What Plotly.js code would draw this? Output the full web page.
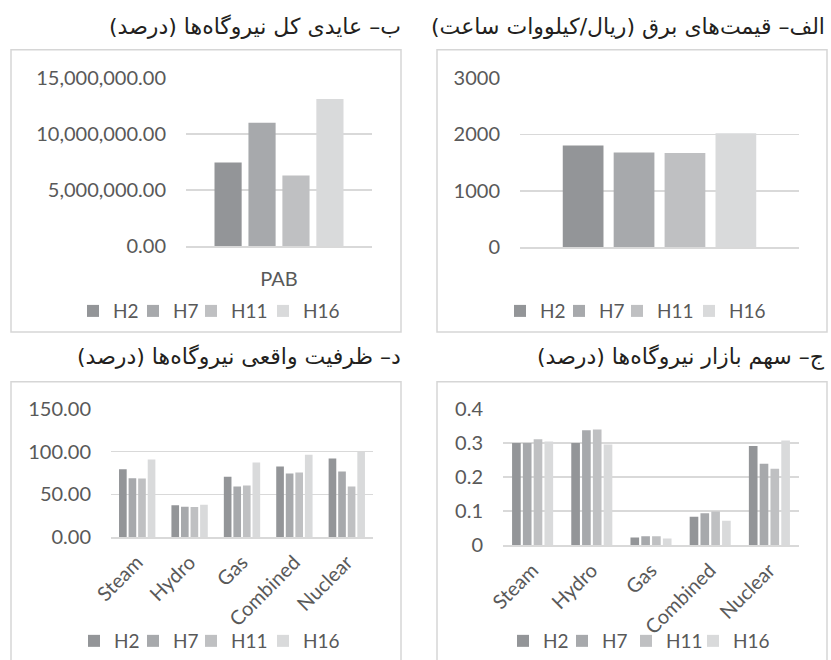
<!DOCTYPE html>
<html>
<head>
<meta charset="utf-8">
<script src="https://cdn.plot.ly/plotly-3.0.1.min.js"></script>
<style>html,body{margin:0;padding:0;background:#fff;}#chart{width:831px;height:660px;}</style>
</head>
<body>
<div id="chart"></div>
<script>
// ---- data ----
var seriesNames = ['H2', 'H7', 'H11', 'H16'];
var seriesColors = ['#939598', '#a7a9ac', '#bfc0c2', '#d9dadb'];

// الف – electricity prices
var priceCategories = ['PAB'];
var priceH2 = [1800];
var priceH7 = [1675];
var priceH11 = [1670];
var priceH16 = [2020];

// ب – total revenue
var revenueCategories = ['PAB'];
var revenueH2 = [7450000];
var revenueH7 = [11000000];
var revenueH11 = [6300000];
var revenueH16 = [13100000];

// ج – market share
var plantCategories = ['Steam', 'Hydro', 'Gas', 'Combined', 'Nuclear'];
var shareH2 = [0.300, 0.300, 0.023, 0.084, 0.291];
var shareH7 = [0.300, 0.337, 0.027, 0.094, 0.239];
var shareH11 = [0.311, 0.339, 0.027, 0.099, 0.224];
var shareH16 = [0.304, 0.295, 0.020, 0.072, 0.307];

// د – real capacity
var capacityH2 = [79.4, 37.6, 70.6, 82.6, 91.9];
var capacityH7 = [69.0, 35.7, 59.3, 74.4, 76.7];
var capacityH11 = [68.8, 35.3, 60.5, 75.6, 59.3];
var capacityH16 = [90.7, 38.0, 87.2, 96.5, 100.0];

var titles = {
  price: 'الف– قیمت‌های برق (ریال/کیلووات ساعت)',
  revenue: 'ب– عایدی کل نیروگاه‌ها (درصد)',
  share: 'ج– سهم بازار نیروگاه‌ها (درصد)',
  capacity: 'د– ظرفیت واقعی نیروگاه‌ها (درصد)'
};

// ---- layout helpers ----
var W = 831, H = 660;
function px(x) { return x / W; }
function py(y) { return 1 - y / H; }

var textColor = '#595959';
var gridColor = '#d9d9d9';
var latin = 'Lato, "Open Sans", sans-serif';
var persian = '"DejaVu Sans", sans-serif';
var fs = 20;

var layout = {
  width: W, height: H, margin: {l: 0, r: 0, t: 0, b: 0},
  paper_bgcolor: '#ffffff', plot_bgcolor: 'rgba(0,0,0,0)',
  barmode: 'group', bargap: 0.27, bargroupgap: 0.2,
  showlegend: true
};

var traces = [];
var legendCount = 0;
// legend square positions (left edge, px) and row y (px) for each panel
function addPanel(cats, vals, xa, ya, squareXs, rowY) {
  for (var i = 0; i < 4; i++) {
    legendCount++;
    var key = legendCount === 1 ? 'legend' : 'legend' + legendCount;
    layout[key] = {
      orientation: 'h', x: px(squareXs[i] - 14), y: py(rowY), xanchor: 'left', yanchor: 'middle',
      font: {family: latin, size: 19, color: textColor}, bgcolor: 'rgba(0,0,0,0)',
      itemclick: false, itemdoubleclick: false
    };
    traces.push({
      type: 'bar', x: cats, y: vals[i], name: seriesNames[i],
      marker: {color: seriesColors[i], line: {width: 0}},
      xaxis: xa, yaxis: ya, legend: key, hoverinfo: 'skip'
    });
  }
}
addPanel(revenueCategories, [revenueH2, revenueH7, revenueH11, revenueH16], 'x', 'y', [87, 147, 205, 277], 312);
addPanel(priceCategories, [priceH2, priceH7, priceH11, priceH16], 'x2', 'y2', [514, 573, 631, 703], 312);
addPanel(plantCategories, [capacityH2, capacityH7, capacityH11, capacityH16], 'x3', 'y3', [88, 147, 205, 277], 643);
addPanel(plantCategories, [shareH2, shareH7, shareH11, shareH16], 'x4', 'y4', [517, 576, 640, 707], 643);

function xAxis(d0, d1, anchor, showLabels, angle, standoff) {
  return {
    domain: [px(d0), px(d1)], anchor: anchor, type: 'category',
    showgrid: false, zeroline: false, showline: true, linecolor: gridColor, linewidth: 1.5,
    ticks: '', showticklabels: showLabels, tickangle: angle,
    tickfont: {family: latin, size: fs, color: textColor}, ticklabelstandoff: standoff
  };
}
function yAxis(top, bottom, anchor, range, dtick, fmt) {
  return {
    domain: [py(bottom), py(top)], anchor: anchor, range: range, dtick: dtick, tick0: 0,
    tickformat: fmt, showgrid: true, gridcolor: gridColor, gridwidth: 1.5,
    zeroline: false, showline: false, ticks: '',
    tickfont: {family: latin, size: fs, color: textColor}, ticklabelstandoff: 19
  };
}
function frame(x0, y0, x1, y1) {
  return {type: 'rect', xref: 'paper', yref: 'paper', x0: px(x0), x1: px(x1), y0: py(y1), y1: py(y0),
    line: {color: '#d6d6d6', width: 1.5}, fillcolor: 'rgba(0,0,0,0)', layer: 'below'};
}
function title(text, xr, y) {
  return {text: text, xref: 'paper', yref: 'paper', x: px(xr), y: py(y), xanchor: 'right', yanchor: 'middle',
    showarrow: false, font: {family: persian, size: 22, color: '#231f20'}};
}

layout.xaxis = xAxis(186, 372, 'y', true, 0, 14);
layout.yaxis = yAxis(78, 247, 'x', [0, 15000000], 5000000, ',.2f');
layout.xaxis2 = xAxis(520, 799, 'y2', false, 0, 14);
layout.yaxis2 = yAxis(78, 248, 'x2', [0, 3000], 1000, 'd');
layout.xaxis3 = xAxis(111, 373, 'y3', true, -45, 4);
layout.yaxis3 = yAxis(410, 539, 'x3', [0, 150], 50, '.2f');
layout.xaxis4 = xAxis(503, 799, 'y4', true, -45, 4);
layout.yaxis4 = yAxis(410, 547, 'x4', [0, 0.4], 0.1, '');
layout.shapes = [
  frame(11, 50, 401, 333),
  frame(437, 50, 827, 333),
  frame(11, 383, 401, 668),
  frame(437, 383, 827, 668)
];
layout.annotations = [
  title(titles.revenue, 403, 27),
  title(titles.price, 827, 27),
  title(titles.capacity, 403, 358),
  title(titles.share, 827, 358)
];

Plotly.newPlot('chart', traces, layout, {staticPlot: true, displayModeBar: false});
</script>
</body>
</html>
